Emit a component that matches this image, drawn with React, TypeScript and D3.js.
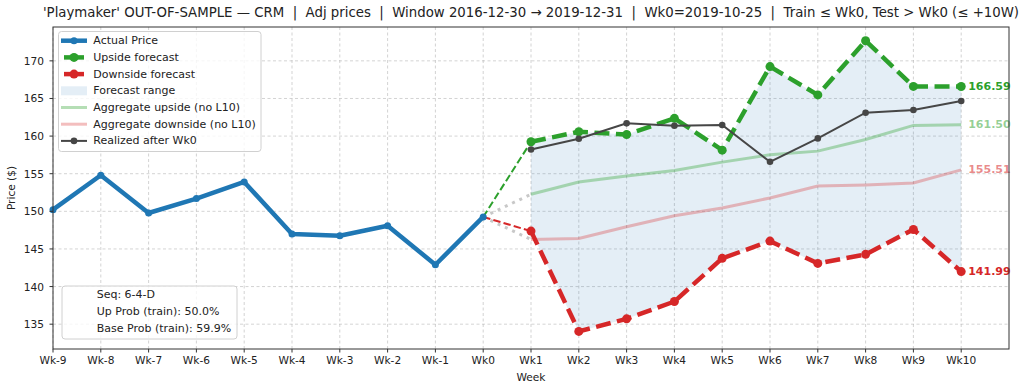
import * as d3 from 'd3'

// weeks relative to Wk0
const pastWeeks = [-9, -8, -7, -6, -5, -4, -3, -2, -1, 0]
const futureWeeks = [1, 2, 3, 4, 5, 6, 7, 8, 9, 10]
const tickLabels = ['Wk-9', 'Wk-8', 'Wk-7', 'Wk-6', 'Wk-5', 'Wk-4', 'Wk-3', 'Wk-2', 'Wk-1', 'Wk0',
  'Wk1', 'Wk2', 'Wk3', 'Wk4', 'Wk5', 'Wk6', 'Wk7', 'Wk8', 'Wk9', 'Wk10']
const yTicks = [135, 140, 145, 150, 155, 160, 165, 170]

const actualPrice = [150.22, 154.79, 149.78, 151.69, 153.9, 146.98, 146.76, 148.09, 142.9, 149.25]
const upsideForecast = [159.24, 160.58, 160.2, 162.36, 158.13, 169.24, 165.47, 172.67, 166.6, 166.59]
const downsideForecast = [147.37, 134.04, 135.71, 138.01, 143.75, 146.04, 143.08, 144.28, 147.59, 141.99]
const aggUpside = [152.26, 153.9, 154.69, 155.44, 156.54, 157.52, 158.0, 159.55, 161.42, 161.5]
const aggDownside = [146.26, 146.39, 147.94, 149.4, 150.45, 151.78, 153.37, 153.5, 153.76, 155.51]
const realized = [158.22, 159.65, 161.69, 161.38, 161.47, 156.58, 159.69, 163.11, 163.47, 164.67]

const infoLines = ['Seq: 6-4-D', 'Up Prob (train): 50.0%', 'Base Prob (train): 59.9%']
const legendItems = [
  { label: 'Actual Price', kind: 'actual' },
  { label: 'Upside forecast', kind: 'up' },
  { label: 'Downside forecast', kind: 'down' },
  { label: 'Forecast range', kind: 'range' },
  { label: 'Aggregate upside (no L10)', kind: 'aggUp' },
  { label: 'Aggregate downside (no L10)', kind: 'aggDown' },
  { label: 'Realized after Wk0', kind: 'real' },
]

const BLUE = '#1f77b4'
const GREEN = '#2ca02c'
const RED = '#d62728'
const GRAY = '#464646'
const FONT = 'DejaVu Sans, sans-serif'

const W = 1024, H = 390
const L = 53, R = 1009, T = 27, B = 349

export default function App() {
  const x = d3.scaleLinear().domain([-9, 11]).range([L, R])
  const y = d3.scaleLinear().domain([131.7, 174.5]).range([B, T])
  const line = d3.line<[number, number]>().x((d) => x(d[0])).y((d) => y(d[1]))
  const pts = (wk: number[], v: number[]) => wk.map((w, i) => [w, v[i]] as [number, number])

  const last = actualPrice[actualPrice.length - 1]
  const area = d3.area<number>()
    .x((_, i) => x(futureWeeks[i]))
    .y0((_, i) => y(downsideForecast[i]))
    .y1((d) => y(d))

  const dots = (wk: number[], v: number[], r: number, c: string) =>
    wk.map((w, i) => <circle key={w} cx={x(w)} cy={y(v[i])} r={r} fill={c} />)

  const tickIdx = tickLabels.map((_, i) => i - 9)

  return (
    <svg width={W} height={H} style={{ position: 'absolute', left: 0, top: 0, fontFamily: FONT }}>
      <rect width={W} height={H} fill="white" />
      <text x={(L + R) / 2} y={17} textAnchor="middle" fontSize={13.3} fill="#222" style={{ whiteSpace: 'pre' }}>
        {"'Playmaker' OUT-OF-SAMPLE — CRM  |  Adj prices  |  Window 2016-12-30 → 2019-12-31  |  Wk0=2019-10-25  |  Train ≤ Wk0, Test > Wk0 (≤ +10W)"}
      </text>

      {/* grid */}
      <g stroke="#b0b0b0" strokeOpacity={0.7} strokeWidth={0.8} strokeDasharray="3 2.5">
        {tickIdx.map((w) => <line key={'gx' + w} x1={x(w)} x2={x(w)} y1={T} y2={B} />)}
        {yTicks.map((v) => <line key={'gy' + v} x1={L} x2={R} y1={y(v)} y2={y(v)} />)}
      </g>

      <path d={area(upsideForecast)!} fill={BLUE} fillOpacity={0.12} />

      <path d={line(pts(futureWeeks, aggUpside))!} fill="none" stroke={GREEN} strokeOpacity={0.35} strokeWidth={3} />
      <path d={line(pts(futureWeeks, aggDownside))!} fill="none" stroke={RED} strokeOpacity={0.3} strokeWidth={3} />

      {/* bridges from Wk0 */}
      <path d={line([[0, last], [1, aggUpside[0]]])!} fill="none" stroke="#c8c8c8" strokeWidth={3} strokeDasharray="3 5" />
      <path d={line([[0, last], [1, aggDownside[0]]])!} fill="none" stroke="#c8c8c8" strokeWidth={3} strokeDasharray="3 5" />
      <path d={line([[0, last], [1, upsideForecast[0]]])!} fill="none" stroke={GREEN} strokeWidth={2} strokeDasharray="7.4 3.2" />
      <path d={line([[0, last], [1, downsideForecast[0]]])!} fill="none" stroke={RED} strokeWidth={2} strokeDasharray="7.4 3.2" />

      <path d={line(pts(pastWeeks, actualPrice))!} fill="none" stroke={BLUE} strokeWidth={4.5} strokeLinejoin="round" />
      {dots(pastWeeks, actualPrice, 3.5, BLUE)}

      <path d={line(pts(futureWeeks, upsideForecast))!} fill="none" stroke={GREEN} strokeWidth={4.5} strokeDasharray="15 6.5" />
      {dots(futureWeeks, upsideForecast, 4.5, GREEN)}
      <path d={line(pts(futureWeeks, downsideForecast))!} fill="none" stroke={RED} strokeWidth={4.5} strokeDasharray="15 6.5" />
      {dots(futureWeeks, downsideForecast, 4.5, RED)}

      <path d={line(pts(futureWeeks, realized))!} fill="none" stroke={GRAY} strokeWidth={2} />
      {dots(futureWeeks, realized, 3.3, GRAY)}

      {/* end labels */}
      <g fontSize={11} fontWeight="bold" dominantBaseline="central">
        <text x={x(10) + 7} y={y(upsideForecast[9])} fill={GREEN}>{upsideForecast[9].toFixed(2)}</text>
        <text x={x(10) + 7} y={y(aggUpside[9])} fill={GREEN} fillOpacity={0.5}>{aggUpside[9].toFixed(2)}</text>
        <text x={x(10) + 7} y={y(aggDownside[9])} fill={RED} fillOpacity={0.55}>{aggDownside[9].toFixed(2)}</text>
        <text x={x(10) + 7} y={y(downsideForecast[9])} fill={RED}>{downsideForecast[9].toFixed(2)}</text>
      </g>

      {/* axes */}
      <rect x={L} y={T} width={R - L} height={B - T} fill="none" stroke="#333" strokeWidth={1} />
      <g fontSize={10.6} fill="#222">
        {tickIdx.map((w, i) => (
          <g key={'tx' + w}>
            <line x1={x(w)} x2={x(w)} y1={B} y2={B + 3.5} stroke="#333" />
            <text x={x(w)} y={B + 15} textAnchor="middle">{tickLabels[i]}</text>
          </g>
        ))}
        {yTicks.map((v) => (
          <g key={'ty' + v}>
            <line x1={L - 3.5} x2={L} y1={y(v)} y2={y(v)} stroke="#333" />
            <text x={L - 9} y={y(v)} textAnchor="end" dominantBaseline="central">{v}</text>
          </g>
        ))}
        <text x={(L + R) / 2} y={381} textAnchor="middle">Week</text>
        <text transform={`translate(15,${(T + B) / 2}) rotate(-90)`} textAnchor="middle">Price ($)</text>
      </g>

      {/* legend */}
      <g fontSize={11} fill="#222">
        <rect x={58.5} y={31.5} width={202.5} height={120} rx={3} fill="white" fillOpacity={0.8} stroke="#d0d0d0" />
        {legendItems.map((it, i) => {
          const cy = 40.7 + i * 16.7
          const x0 = 61, x1 = 87, xm = (x0 + x1) / 2
          let handle = null
          if (it.kind === 'actual') handle = <g><line x1={x0} x2={x1} y1={cy} y2={cy} stroke={BLUE} strokeWidth={4.5} /><circle cx={xm} cy={cy} r={3.5} fill={BLUE} /></g>
          if (it.kind === 'up') handle = <g><line x1={x0 + 3} x2={x1 - 3} y1={cy} y2={cy} stroke={GREEN} strokeWidth={4.5} /><circle cx={xm} cy={cy} r={4.5} fill={GREEN} /></g>
          if (it.kind === 'down') handle = <g><line x1={x0 + 3} x2={x1 - 3} y1={cy} y2={cy} stroke={RED} strokeWidth={4.5} /><circle cx={xm} cy={cy} r={4.5} fill={RED} /></g>
          if (it.kind === 'range') handle = <rect x={x0} y={cy - 4.5} width={x1 - x0} height={9} fill={BLUE} fillOpacity={0.12} />
          if (it.kind === 'aggUp') handle = <line x1={x0} x2={x1} y1={cy} y2={cy} stroke={GREEN} strokeOpacity={0.35} strokeWidth={3} />
          if (it.kind === 'aggDown') handle = <line x1={x0} x2={x1} y1={cy} y2={cy} stroke={RED} strokeOpacity={0.3} strokeWidth={3} />
          if (it.kind === 'real') handle = <g><line x1={x0} x2={x1} y1={cy} y2={cy} stroke={GRAY} strokeWidth={2} /><circle cx={xm} cy={cy} r={3.3} fill={GRAY} /></g>
          return (
            <g key={it.label}>
              {handle}
              <text x={93.3} y={cy} dominantBaseline="central">{it.label}</text>
            </g>
          )
        })}
      </g>

      {/* info box */}
      <g fontSize={11} fill="#222">
        <rect x={62} y={286} width={175} height={53} rx={3} fill="white" fillOpacity={0.8} stroke="#d0d0d0" />
        {infoLines.map((s, i) => (
          <text key={s} x={96.7} y={294 + i * 17} dominantBaseline="central">{s}</text>
        ))}
      </g>
    </svg>
  )
}
